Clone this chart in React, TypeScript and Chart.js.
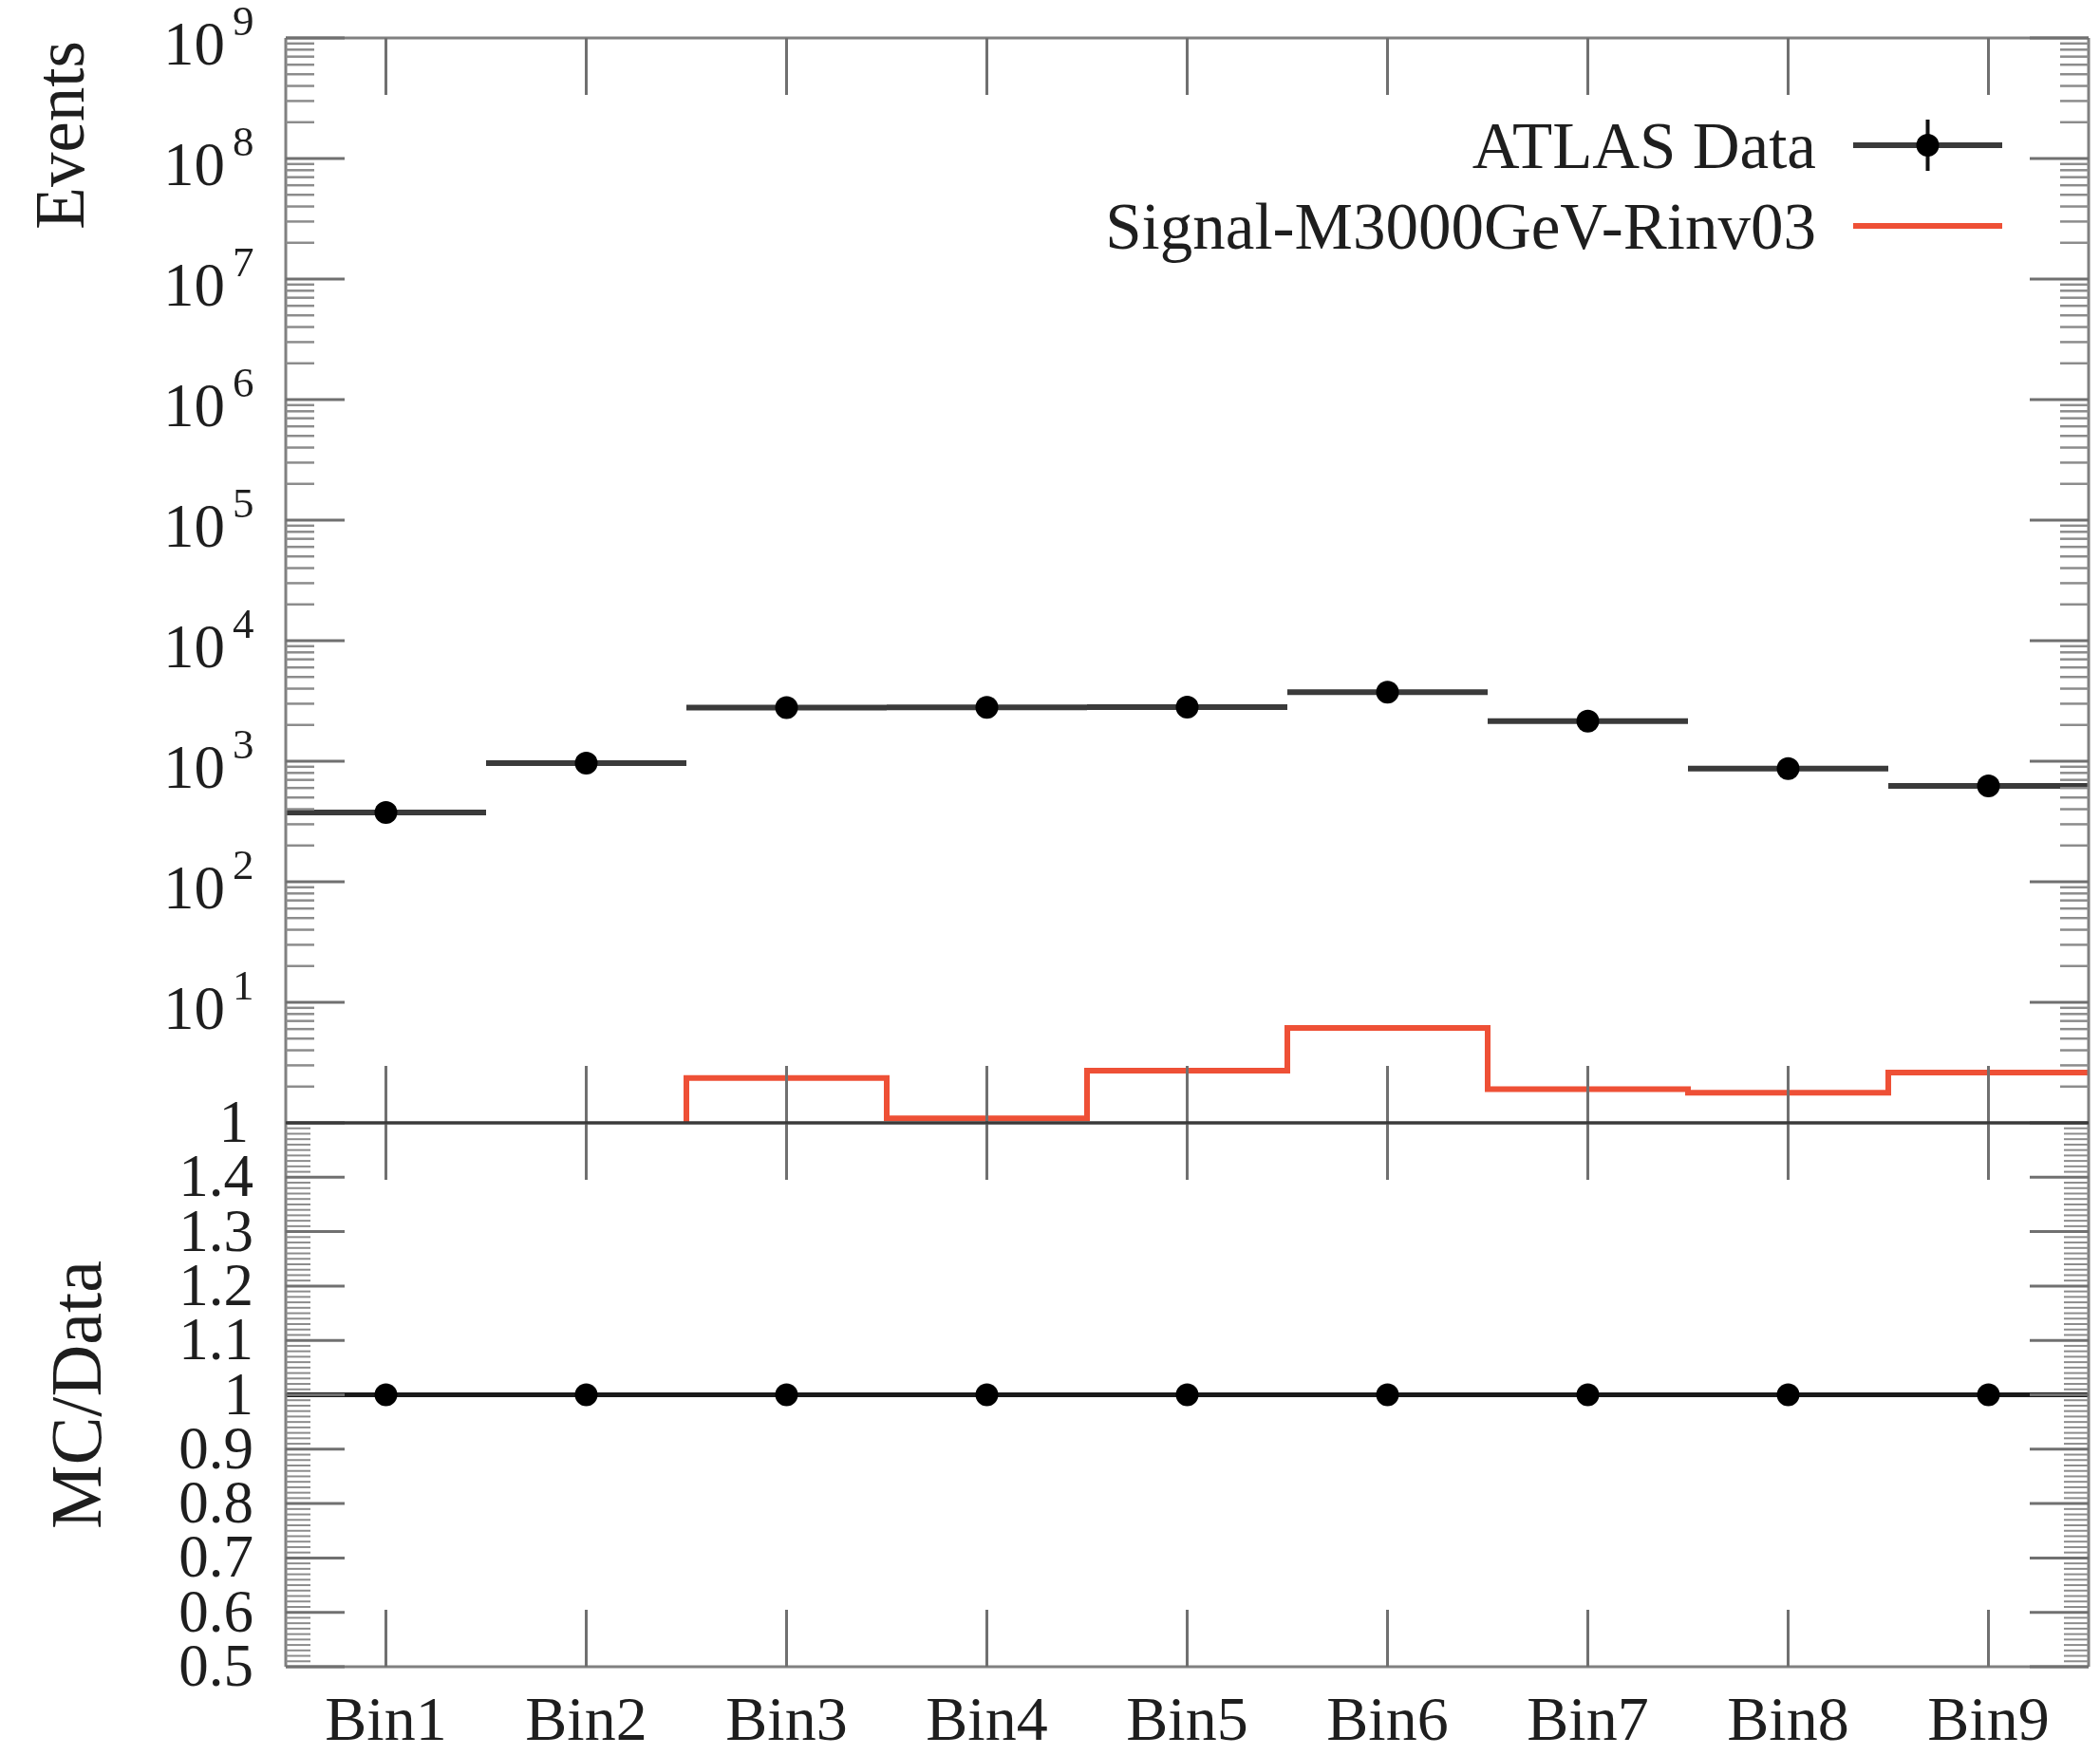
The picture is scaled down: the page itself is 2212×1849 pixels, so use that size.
import React, { useEffect, useRef } from "react";
import { Chart, registerables } from "chart.js";

Chart.register(...registerables);

// ---------------- data ----------------
const categories = ["Bin1", "Bin2", "Bin3", "Bin4", "Bin5", "Bin6", "Bin7", "Bin8", "Bin9"];
const dataEvents = [376, 964, 2790, 2800, 2810, 3740, 2150, 870, 625];
const signalEvents = [0, 0, 2.35, 1.09, 2.71, 6.13, 1.9, 1.78, 2.61];
const ratioValues = [1, 1, 1, 1, 1, 1, 1, 1, 1];
const eventTickValues = [1, 10, 100, 1e3, 1e4, 1e5, 1e6, 1e7, 1e8, 1e9];
const eventTickLabels = ["1", "10^1", "10^2", "10^3", "10^4", "10^5", "10^6", "10^7", "10^8", "10^9"];
const ratioTickValues = [0.5, 0.6, 0.7, 0.8, 0.9, 1.0, 1.1, 1.2, 1.3, 1.4];
const ratioTickLabels = ["0.5", "0.6", "0.7", "0.8", "0.9", "1", "1.1", "1.2", "1.3", "1.4"];
const seriesLabels = ["ATLAS Data", "Signal-M3000GeV-Rinv03"];
const yTitles = ["Events", "MC/Data"];

const EVENTS_MIN = 1;
const EVENTS_MAX = 1e9;
const RATIO_MIN = 0.5;
const RATIO_MAX = 1.5;

// ---------------- style ----------------
const W = 2212;
const H = 1849;
const PLOT_LEFT = 301;
const PLOT_RIGHT = 2206;
const PLOT_TOP = 40;
const PANEL_SPLIT = 1183;
const PLOT_BOTTOM = 1756;
const FONT = '"Liberation Serif", "Times New Roman", "DejaVu Serif", serif';
const TEXT = "#1e1e1e";
const FRAME = "#808080";
const TICK = "#707070";
const MINOR = "#8c8c8c";
const MIDLINE = "#3a3a3a";
const DATA_LINE = "#3a3a3a";
const RATIO_LINE = "#1a1a1a";
const RED = "#ee5036";

const dataPoints = dataEvents.map((v, i) => ({ x: i + 0.5, y: v, xMin: i, xMax: i + 1 }));
const ratioPoints = ratioValues.map((v, i) => ({ x: i + 0.5, y: v, xMin: i, xMax: i + 1 }));
// step histogram: vertical at the left edge, then horizontal across the bin
const signalPoints = [
  { x: 0, y: Math.max(signalEvents[0], EVENTS_MIN) },
  ...signalEvents.map((v, i) => ({ x: i + 1, y: Math.max(v, EVENTS_MIN) })),
];

function seg(ctx: CanvasRenderingContext2D, x1: number, y1: number, x2: number, y2: number) {
  ctx.beginPath();
  ctx.moveTo(x1, y1);
  ctx.lineTo(x2, y2);
  ctx.stroke();
}

function txt(
  ctx: CanvasRenderingContext2D,
  s: string,
  x: number,
  y: number,
  size: number,
  align: CanvasTextAlign
) {
  ctx.font = `${size}px ${FONT}`;
  ctx.textAlign = align;
  ctx.textBaseline = "alphabetic";
  ctx.fillStyle = TEXT;
  ctx.fillText(s, x, y);
}

const xErrorBarPlugin = {
  id: "xErrorBars",
  beforeDatasetsDraw(chart: any) {
    const { ctx, chartArea: a } = chart;
    ctx.save();
    ctx.beginPath();
    ctx.rect(a.left, a.top, a.right - a.left, a.bottom - a.top);
    ctx.clip();
    chart.data.datasets.forEach((ds: any, i: number) => {
      if (!ds.xErrorBars) return;
      const meta = chart.getDatasetMeta(i);
      const xs = chart.scales[meta.xAxisID];
      const ys = chart.scales[meta.yAxisID];
      ctx.strokeStyle = ds.errorBarColor;
      ctx.lineWidth = ds.errorBarWidth;
      ctx.lineCap = "butt";
      ds.data.forEach((d: any) => {
        const py = ys.getPixelForValue(d.y);
        seg(ctx, xs.getPixelForValue(d.xMin), py, xs.getPixelForValue(d.xMax), py);
      });
    });
    ctx.restore();
  },
};

function drawXTicks(ctx: CanvasRenderingContext2D, xs: any, a: any) {
  ctx.strokeStyle = TICK;
  ctx.lineWidth = 3;
  categories.forEach((_, i) => {
    const px = xs.getPixelForValue(i + 0.5);
    seg(ctx, px, a.top, px, a.top + 60);
    seg(ctx, px, a.bottom, px, a.bottom - 60);
  });
}

const upperFramePlugin = {
  id: "upperFrame",
  afterDatasetsDraw(chart: any) {
    const { ctx, chartArea: a } = chart;
    const xs = chart.scales.x;
    const ys = chart.scales.y;
    ctx.save();
    ctx.lineCap = "butt";
    ctx.strokeStyle = FRAME;
    ctx.lineWidth = 3;
    seg(ctx, a.left, a.top, a.right, a.top);
    seg(ctx, a.left, a.top, a.left, a.bottom);
    seg(ctx, a.right, a.top, a.right, a.bottom);
    drawXTicks(ctx, xs, a);
    eventTickValues.forEach((v) => {
      const py = ys.getPixelForValue(v);
      ctx.strokeStyle = TICK;
      ctx.lineWidth = 3;
      seg(ctx, a.left, py, a.left + 62, py);
      seg(ctx, a.right, py, a.right - 62, py);
      if (v < EVENTS_MAX) {
        ctx.strokeStyle = MINOR;
        ctx.lineWidth = 2.5;
        for (let m = 2; m <= 9; m++) {
          const pm = ys.getPixelForValue(m * v);
          seg(ctx, a.left, pm, a.left + 30, pm);
          seg(ctx, a.right, pm, a.right - 30, pm);
        }
      }
    });
    ctx.strokeStyle = MIDLINE;
    ctx.lineWidth = 3;
    seg(ctx, a.left, a.bottom, a.right, a.bottom);

    eventTickValues.forEach((v, i) => {
      const py = ys.getPixelForValue(v);
      const [base, exp] = eventTickLabels[i].split("^");
      if (!exp) {
        txt(ctx, base, a.left - 39, py + 20, 63, "right");
      } else {
        txt(ctx, exp, a.left - 56, py - 3, 45, "left");
        txt(ctx, base, a.left - 64, py + 28, 65, "right");
      }
    });

    ctx.save();
    ctx.translate(88, a.top + 3);
    ctx.rotate(-Math.PI / 2);
    txt(ctx, yTitles[0], 0, 0, 73, "right");
    ctx.restore();

    const ds0 = chart.data.datasets[0];
    const ds1 = chart.data.datasets[1];
    const lx1 = a.right - 248;
    const lx2 = a.right - 91;
    const ly1 = a.top + 113;
    const ly2 = ly1 + 85;
    txt(ctx, ds0.label, a.right - 287, ly1 + 24, 69, "right");
    txt(ctx, ds1.label, a.right - 287, ly2 + 24, 69, "right");
    ctx.strokeStyle = ds0.errorBarColor;
    ctx.lineWidth = ds0.errorBarWidth;
    seg(ctx, lx1, ly1, lx2, ly1);
    ctx.strokeStyle = "#111";
    ctx.lineWidth = 4;
    const cx = (lx1 + lx2) / 2;
    seg(ctx, cx, ly1 - 27, cx, ly1 + 27);
    ctx.fillStyle = ds0.backgroundColor;
    ctx.beginPath();
    ctx.arc(cx, ly1, ds0.pointRadius, 0, Math.PI * 2);
    ctx.fill();
    ctx.strokeStyle = ds1.borderColor;
    ctx.lineWidth = ds1.borderWidth;
    seg(ctx, lx1, ly2, lx2, ly2);
    ctx.restore();
  },
};

const lowerFramePlugin = {
  id: "lowerFrame",
  afterDatasetsDraw(chart: any) {
    const { ctx, chartArea: a } = chart;
    const xs = chart.scales.x;
    const ys = chart.scales.yr;
    ctx.save();
    ctx.lineCap = "butt";
    ctx.strokeStyle = FRAME;
    ctx.lineWidth = 3;
    seg(ctx, a.left, a.bottom, a.right, a.bottom);
    seg(ctx, a.left, a.top, a.left, a.bottom);
    seg(ctx, a.right, a.top, a.right, a.bottom);
    drawXTicks(ctx, xs, a);
    ctx.strokeStyle = MINOR;
    ctx.lineWidth = 2;
    for (let k = Math.round(RATIO_MIN * 100); k <= Math.round(RATIO_MAX * 100); k++) {
      if (k % 10 === 0) continue;
      const py = ys.getPixelForValue(k / 100);
      seg(ctx, a.left, py, a.left + 26, py);
      seg(ctx, a.right, py, a.right - 26, py);
    }
    ctx.strokeStyle = TICK;
    ctx.lineWidth = 3;
    for (let k = Math.round(RATIO_MIN * 10); k <= Math.round(RATIO_MAX * 10); k++) {
      const py = ys.getPixelForValue(k / 10);
      seg(ctx, a.left, py, a.left + 62, py);
      seg(ctx, a.right, py, a.right - 62, py);
    }
    ctx.strokeStyle = MIDLINE;
    ctx.lineWidth = 3;
    seg(ctx, a.left, a.top, a.right, a.top);

    ratioTickValues.forEach((v, i) => {
      const py = ys.getPixelForValue(v);
      txt(ctx, ratioTickLabels[i], a.left - 34, py + 20, 63, "right");
    });
    categories.forEach((c, i) => {
      txt(ctx, c, xs.getPixelForValue(i + 0.5), a.bottom + 77, 66, "center");
    });
    ctx.save();
    ctx.translate(106, (a.top + a.bottom) / 2);
    ctx.rotate(-Math.PI / 2);
    txt(ctx, yTitles[1], 0, 0, 76, "center");
    ctx.restore();
    ctx.restore();
  },
};

// make sure the plot area lands exactly where wanted
function pinArea(ch: any, top: number, bottom: number) {
  const a = ch.chartArea;
  const p = ch.options.layout.padding;
  const dl = PLOT_LEFT - a.left;
  const dr = a.right - PLOT_RIGHT;
  const dt = top - a.top;
  const db = a.bottom - bottom;
  if (Math.abs(dl) > 0.5 || Math.abs(dr) > 0.5 || Math.abs(dt) > 0.5 || Math.abs(db) > 0.5) {
    p.left += dl;
    p.right += dr;
    p.top += dt;
    p.bottom += db;
    ch.update("none");
  }
}

export default function App() {
  const topRef = useRef<HTMLCanvasElement>(null);
  const botRef = useRef<HTMLCanvasElement>(null);

  useEffect(() => {
    const upper = new Chart(topRef.current as HTMLCanvasElement, {
      type: "scatter",
      data: {
        datasets: [
          {
            type: "scatter",
            label: seriesLabels[0],
            data: dataPoints,
            pointRadius: 12,
            backgroundColor: "#000",
            borderColor: "#000",
            borderWidth: 0,
            order: 1,
            xErrorBars: true,
            errorBarColor: DATA_LINE,
            errorBarWidth: 6,
          } as any,
          {
            type: "line",
            label: seriesLabels[1],
            data: signalPoints,
            stepped: "after",
            borderColor: RED,
            borderWidth: 6,
            borderCapStyle: "butt",
            borderJoinStyle: "miter",
            pointRadius: 0,
            fill: false,
            clip: 0,
            order: 2,
            segment: {
              borderColor: (c: any) =>
                signalEvents[c.p1DataIndex - 1] > 0 ? undefined : "rgba(0,0,0,0)",
            },
          } as any,
        ],
      },
      options: {
        responsive: false,
        animation: false,
        devicePixelRatio: 1,
        events: [],
        layout: {
          padding: { left: PLOT_LEFT, right: W - PLOT_RIGHT, top: PLOT_TOP, bottom: H - PANEL_SPLIT },
        },
        plugins: { legend: { display: false }, tooltip: { enabled: false } },
        scales: {
          x: { type: "linear", min: 0, max: categories.length, display: false },
          y: { type: "logarithmic", min: EVENTS_MIN, max: EVENTS_MAX, display: false },
        },
      } as any,
      plugins: [xErrorBarPlugin, upperFramePlugin],
    });
    pinArea(upper, PLOT_TOP, PANEL_SPLIT);

    const lower = new Chart(botRef.current as HTMLCanvasElement, {
      type: "scatter",
      data: {
        datasets: [
          {
            type: "scatter",
            label: seriesLabels[0],
            data: ratioPoints,
            yAxisID: "yr",
            pointRadius: 12,
            backgroundColor: "#000",
            borderColor: "#000",
            borderWidth: 0,
            xErrorBars: true,
            errorBarColor: RATIO_LINE,
            errorBarWidth: 5,
          } as any,
        ],
      },
      options: {
        responsive: false,
        animation: false,
        devicePixelRatio: 1,
        events: [],
        layout: {
          padding: { left: PLOT_LEFT, right: W - PLOT_RIGHT, top: PANEL_SPLIT, bottom: H - PLOT_BOTTOM },
        },
        plugins: { legend: { display: false }, tooltip: { enabled: false } },
        scales: {
          x: { type: "linear", min: 0, max: categories.length, display: false },
          yr: { type: "linear", min: RATIO_MIN, max: RATIO_MAX, display: false },
        },
      } as any,
      plugins: [xErrorBarPlugin, lowerFramePlugin],
    });
    pinArea(lower, PANEL_SPLIT, PLOT_BOTTOM);

    return () => {
      upper.destroy();
      lower.destroy();
    };
  }, []);

  const canvasStyle: React.CSSProperties = { position: "absolute", left: 0, top: 0, width: W, height: H };
  return (
    <div style={{ position: "absolute", left: 0, top: 0, width: W, height: H, overflow: "hidden", background: "#fff" }}>
      <canvas ref={topRef} width={W} height={H} style={canvasStyle} />
      <canvas ref={botRef} width={W} height={H} style={canvasStyle} />
    </div>
  );
}
